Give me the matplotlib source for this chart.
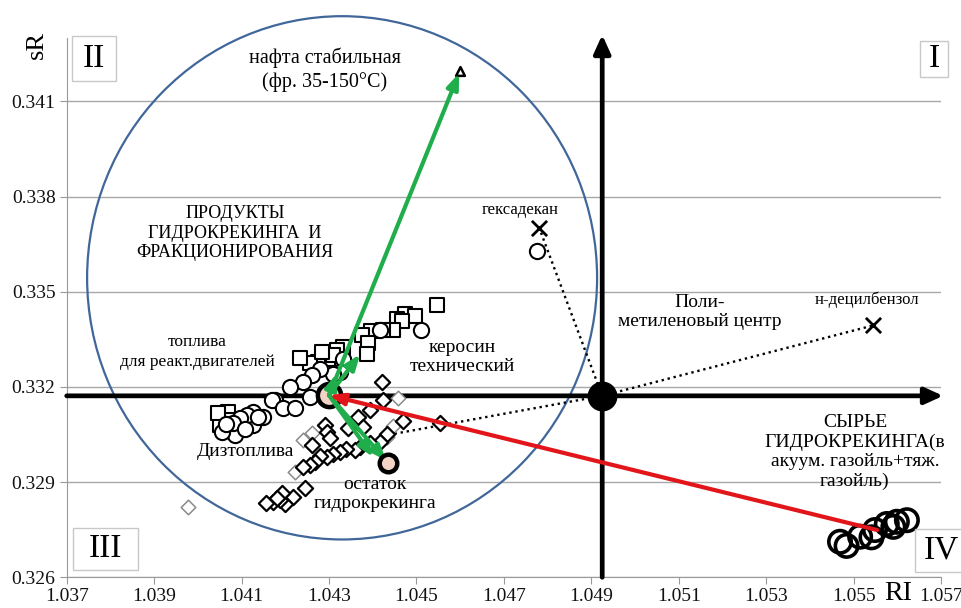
import numpy as np
import matplotlib.pyplot as plt
from matplotlib.patches import Ellipse, Rectangle

plt.rcParams['font.family'] = ['Liberation Serif', 'DejaVu Serif']

# --- data (RI, sR) ---
sq_x = [1.04546, 1.04474, 1.04497, 1.04455, 1.04466, 1.04446, 1.04423, 1.04395, 1.04375,
        1.04390, 1.04386, 1.04333, 1.04318, 1.04298, 1.04276, 1.04257, 1.04309, 1.04284,
        1.04234, 1.04070, 1.04066, 1.04051, 1.04046]
sq_y = [0.33457, 0.33429, 0.33423, 0.33415, 0.33408, 0.33378, 0.33381, 0.33376, 0.33363,
        0.33337, 0.33305, 0.33326, 0.33316, 0.33289, 0.33279, 0.33274, 0.33300, 0.33309,
        0.33290, 0.33121, 0.33095, 0.33079, 0.33117]

ci_x = [1.04510, 1.04417, 1.04333, 1.04325, 1.04310, 1.04279, 1.04260, 1.04241, 1.04211,
        1.04257, 1.04176, 1.04169, 1.04195, 1.04222, 1.04150, 1.04127, 1.04127, 1.04112,
        1.04096, 1.04085, 1.04055, 1.04081, 1.04108, 1.04138, 1.04064, 1.04775]
ci_y = [0.33381, 0.33378, 0.33289, 0.33247, 0.33242, 0.33258, 0.33237, 0.33216, 0.33200,
        0.33169, 0.33160, 0.33158, 0.33134, 0.33134, 0.33106, 0.33121, 0.33079, 0.33111,
        0.33101, 0.33048, 0.33058, 0.33085, 0.33069, 0.33106, 0.33082, 0.33630]

di_x = [1.04421, 1.04424, 1.04394, 1.04367, 1.04344, 1.04470, 1.04554, 1.04291, 1.04295,
        1.04302, 1.04260, 1.04432, 1.04417, 1.04394, 1.04371, 1.04359, 1.04340, 1.04325,
        1.04310, 1.04295, 1.04279, 1.04268, 1.04257, 1.04241, 1.04245, 1.04218, 1.04199,
        1.04188, 1.04173, 1.04157, 1.04192, 1.04180, 1.04378]
di_y = [0.33216, 0.33158, 0.33127, 0.33106, 0.33072, 0.33093, 0.33087, 0.33079, 0.33058,
        0.33038, 0.33016, 0.33053, 0.33027, 0.33022, 0.33011, 0.33001, 0.33006, 0.32995,
        0.32988, 0.32980, 0.32982, 0.32964, 0.32954, 0.32948, 0.32880, 0.32852, 0.32831,
        0.32844, 0.32838, 0.32835, 0.32866, 0.32849, 0.33073]

grey_di_x = [1.03978, 1.04222, 1.04241, 1.04260, 1.04459, 1.04447, 1.04432]
grey_di_y = [0.32822, 0.32932, 0.33032, 0.33055, 0.33165, 0.33076, 0.33043]

feed_x = [1.05469, 1.05484, 1.05515, 1.05541, 1.05549, 1.05576, 1.05591, 1.05599, 1.05622]
feed_y = [0.32712, 0.32699, 0.32728, 0.32726, 0.32749, 0.32768, 0.32759, 0.32775, 0.32780]

center = (1.04925, 0.33172)        # polymethylene centre
products = (1.04300, 0.33174)      # hydrocracking products centroid
naphtha = (1.04600, 0.34197)
kerosene = (1.04375, 0.33310)
jet = (1.04320, 0.33250)
residue = (1.04435, 0.32961)
residue2 = (1.04405, 0.32972)
feed = (1.05554, 0.32749)
hexadecane = (1.04781, 0.33701)
decylbenzene = (1.05545, 0.33394)
diesel_trend = (1.04432, 0.33048)

yticks = [0.326, 0.329, 0.332, 0.335, 0.338, 0.341]
xticks = [1.037, 1.039, 1.041, 1.043, 1.045, 1.047, 1.049, 1.051, 1.053, 1.055, 1.057]

fig = plt.figure(figsize=(9.62, 6.08), dpi=100)
ax = fig.add_axes([66.7 / 962, 1 - 577.3 / 608, (941 - 66.7) / 962, (577.3 - 38) / 608])
ax.set_xlim(1.037, 1.057)
ax.set_ylim(0.326, 0.343)
ax.set_xticks(xticks)
ax.set_yticks(yticks)
ax.set_xticklabels(['%.3f' % v for v in xticks], fontsize=14)
ax.set_yticklabels(['%.3f' % v for v in yticks], fontsize=14)
ax.tick_params(colors='#9a9a9a', labelcolor='#111111', length=5, pad=3)
for s in ['top', 'right']:
    ax.spines[s].set_visible(False)
for s in ['left', 'bottom']:
    ax.spines[s].set_color('#9a9a9a')
ax.grid(axis='y', color='#a8a8a8', lw=1)
ax.set_axisbelow(True)

# big circle around products
ax.add_patch(Ellipse((1.04330, 0.33544), 0.011666, 0.016495, fill=False,
                     edgecolor='#41679a', lw=1.6, clip_on=False, zorder=2))

# coordinate arrows through the centre
axis_arrow = dict(arrowstyle='-|>,head_length=1.1,head_width=0.5', lw=3.4, color='k',
                  shrinkA=0, shrinkB=0)
ax.annotate('', xy=(1.05705, center[1]), xytext=(1.037, center[1]),
            arrowprops=axis_arrow, annotation_clip=False, zorder=3)
ax.annotate('', xy=(center[0], 0.3431), xytext=(center[0], 0.326),
            arrowprops=axis_arrow, annotation_clip=False, zorder=3)

# dotted links
for p in [hexadecane, decylbenzene, diesel_trend]:
    ax.plot([center[0], p[0]], [center[1], p[1]], ls=(0, (1, 1.6)), color='k', lw=1.7, zorder=3)

ax.scatter(sq_x, sq_y, marker='s', s=115, facecolor='white', edgecolor='k', lw=1.5, zorder=4)
ax.scatter(ci_x, ci_y, marker='o', s=120, facecolor='white', edgecolor='k', lw=1.5, zorder=4)
ax.scatter(grey_di_x, grey_di_y, marker='D', s=55, facecolor='white', edgecolor='#8a8a8a', lw=1.1, zorder=4)
ax.scatter(di_x, di_y, marker='D', s=60, facecolor='white', edgecolor='k', lw=1.6, zorder=4)
ax.scatter(feed_x, feed_y, marker='o', s=260, facecolor='none', edgecolor='k', lw=2.6, zorder=4)

ax.scatter([hexadecane[0], decylbenzene[0]], [hexadecane[1], decylbenzene[1]], marker='x',
           s=120, color='k', lw=2, zorder=5)
ax.scatter([center[0]], [center[1]], s=420, color='k', zorder=6)
ax.scatter([naphtha[0]], [naphtha[1]], marker='^', s=40, facecolor='white', edgecolor='k', lw=1.8, zorder=6)

# arrows from the products centroid
green = '#1fae4b'
for tgt in [naphtha, kerosene, jet, residue, residue2]:
    ax.annotate('', xy=tgt, xytext=products,
                arrowprops=dict(arrowstyle='-|>,head_length=0.9,head_width=0.35', lw=3, color=green,
                                shrinkA=0, shrinkB=2), zorder=7)
ax.annotate('', xy=products, xytext=feed,
            arrowprops=dict(arrowstyle='-|>,head_length=0.9,head_width=0.35', lw=3, color='#e2161a',
                            shrinkA=0, shrinkB=0), zorder=7)

ax.scatter([products[0]], [products[1]], s=280, facecolor='#f2d3c6', edgecolor='k', lw=3.2, zorder=6)
ax.scatter([residue[0]], [residue[1]], s=160, facecolor='#f2d3c6', edgecolor='k', lw=3.2, zorder=8)

# labels
fs = 14
fig.text(325 / 962, 1 - 70 / 608, 'нафта стабильная\n(фр. 35-150°С)', ha='center', va='center',
         fontsize=14.5, linespacing=1.3)
fig.text(235 / 962, 1 - 233 / 608, 'ПРОДУКТЫ\nГИДРОКРЕКИНГА  И\nФРАКЦИОНИРОВАНИЯ', ha='center',
         va='center', fontsize=13, linespacing=1.2)
fig.text(520 / 962, 1 - 210 / 608, 'гексадекан', ha='center', va='center', fontsize=12)
fig.text(700 / 962, 1 - 312 / 608, 'Поли-\nметиленовый центр', ha='center', va='center', fontsize=fs,
         linespacing=1.2)
fig.text(867 / 962, 1 - 300 / 608, 'н-децилбензол', ha='center', va='center', fontsize=12)
fig.text(197 / 962, 1 - 352 / 608, 'топлива\nдля реакт.двигателей', ha='center', va='center',
         fontsize=12.5, linespacing=1.3)
fig.text(462 / 962, 1 - 357 / 608, 'керосин\nтехнический', ha='center', va='center', fontsize=fs,
         linespacing=1.2)
fig.text(245 / 962, 1 - 452 / 608, 'Дизтоплива', ha='center', va='center', fontsize=fs)
fig.text(375 / 962, 1 - 494 / 608, 'остаток\nгидрокрекинга', ha='center', va='center', fontsize=fs,
         linespacing=1.2)
fig.text(855 / 962, 1 - 452 / 608, 'СЫРЬЕ\nГИДРОКРЕКИНГА(в\nакуум. газойль+тяж.\nгазойль)',
         ha='center', va='center', fontsize=fs, linespacing=1.2)
fig.text(37 / 962, 1 - 45 / 608, 'sR', rotation=90, ha='center', va='center', fontsize=19)
fig.text(898 / 962, 1 - 593 / 608, 'RI', ha='center', va='center', fontsize=20)

# quadrant boxes
quads = [('II', 72, 36, 44, 45), ('I', 920, 41, 28, 36), ('III', 73, 528, 65, 42), ('IV', 915, 529, 52, 43)]
for lab, x0, y0, w, h in quads:
    fig.patches.append(Rectangle((x0 / 962, 1 - (y0 + h) / 608), w / 962, h / 608,
                                 transform=fig.transFigure, fill=True, facecolor='white',
                                 edgecolor='#c8c8c8', lw=1, zorder=10))
    fig.text((x0 + w / 2) / 962, 1 - (y0 + h / 2) / 608, lab, ha='center', va='center',
             fontsize=24, zorder=11)

fig.savefig('out.png', dpi=100)
